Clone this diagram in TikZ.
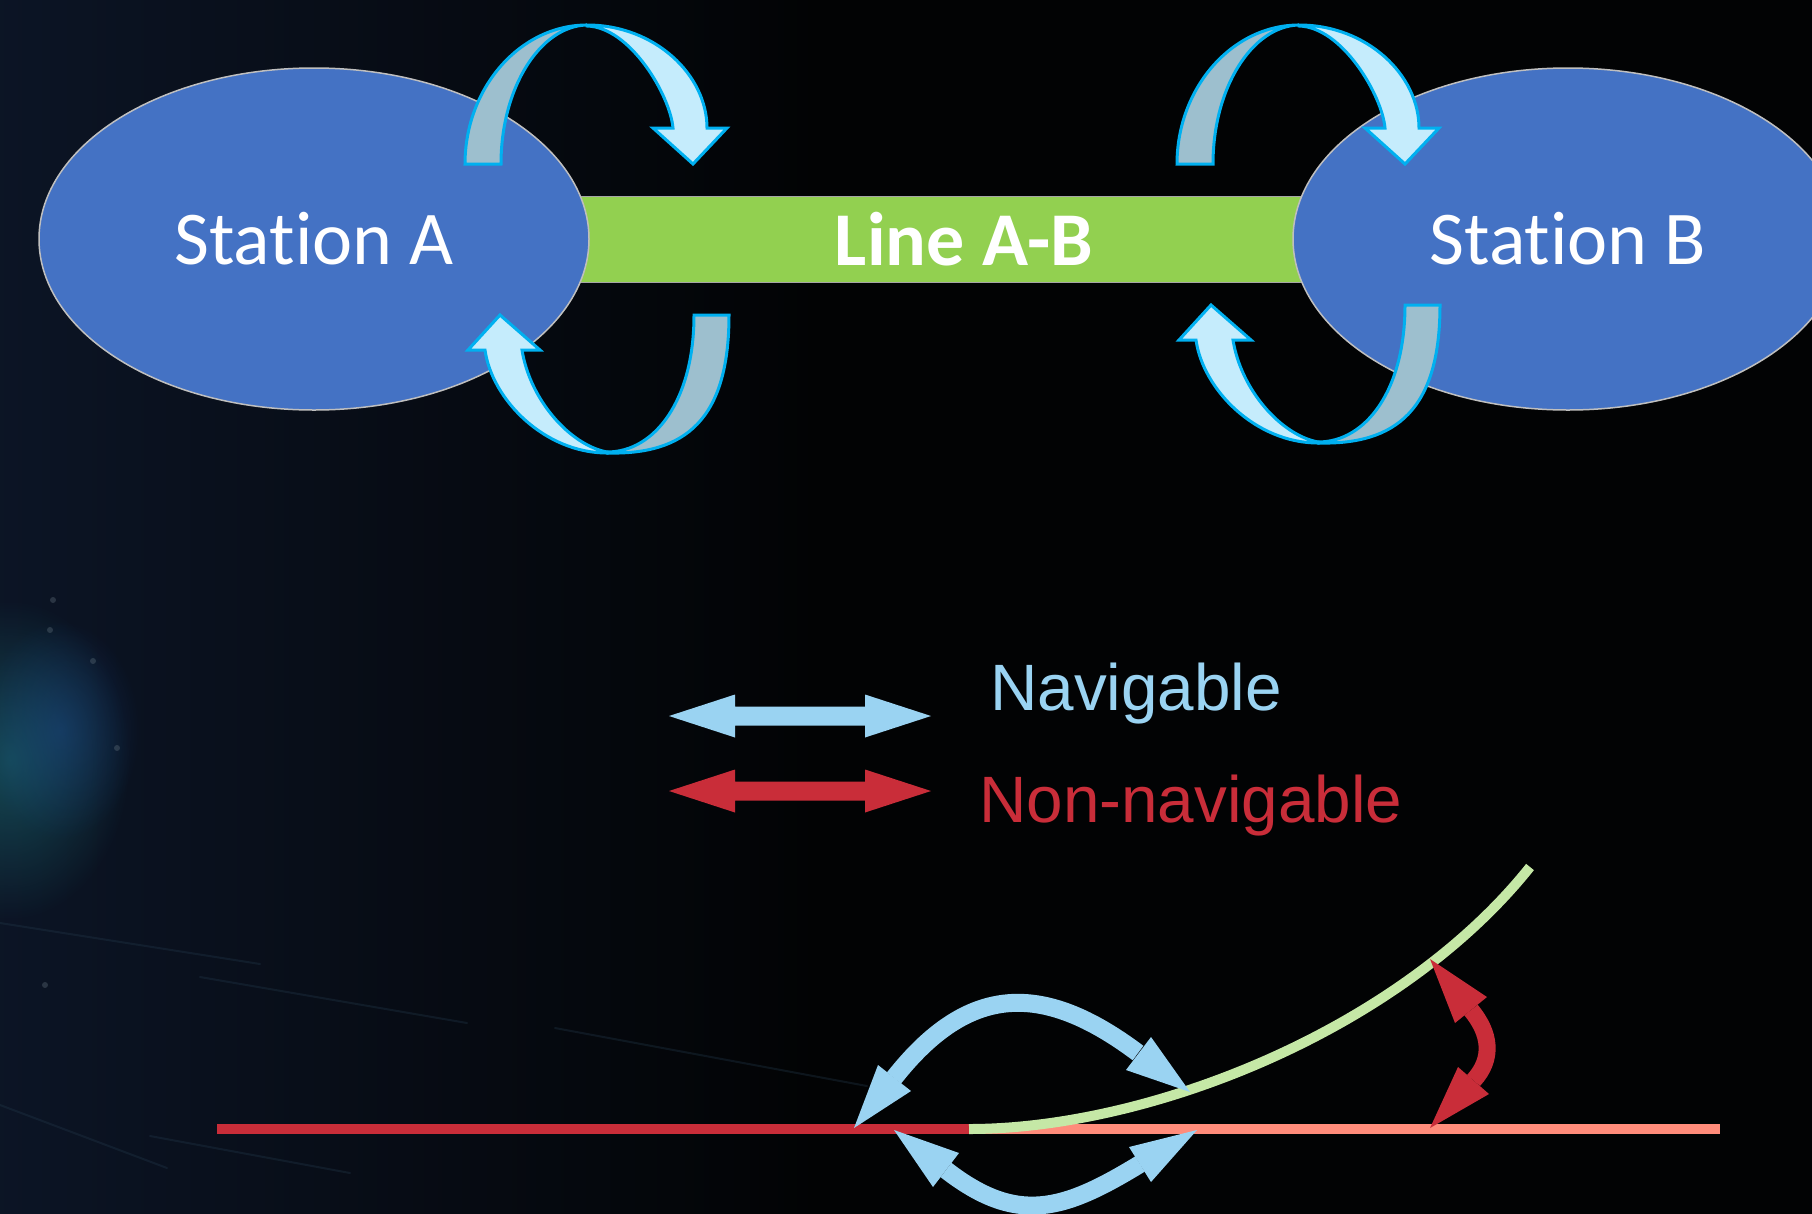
\documentclass[tikz,border=0pt]{standalone}
\usepackage{fontspec}
\setmainfont{Carlito}[Ligatures=NoCommon]
\newfontfamily\legendfont{Liberation Sans}
\usetikzlibrary{shapes.geometric,fadings}

\definecolor{bgblack}{HTML}{020304}
\definecolor{bgnavy}{HTML}{0C1526}
\definecolor{glowteal}{HTML}{1E7F86}
\definecolor{glowblue}{HTML}{1F4E9A}
\definecolor{streak}{HTML}{22384A}
\definecolor{stationblue}{HTML}{4472C4}
\definecolor{stationedge}{HTML}{BFBFBF}
\definecolor{linegreen}{HTML}{92D050}
\definecolor{loopedge}{HTML}{00B0F0}
\definecolor{loopback}{HTML}{9DBFCE}
\definecolor{loopfront}{HTML}{C5ECFC}
\definecolor{navblue}{HTML}{9AD3F2}
\definecolor{nonred}{HTML}{C92D39}
\definecolor{trackgreen}{HTML}{C5E8A6}
\definecolor{tracksalmon}{HTML}{FF8C7B}

\tikzfading[name=softglow, inner color=transparent!0, outer color=transparent!100]

\tikzset{
  station/.style={ellipse, minimum width=550pt, minimum height=342pt, inner sep=0pt,
    fill=stationblue, draw=stationedge, line width=1.5pt, text=white,
    font=\fontsize{76}{80}\selectfont},
  linebar/.style={rectangle, minimum width=778pt, minimum height=86pt, inner sep=0pt,
    fill=linegreen, draw=gray!70, line width=1pt, text=white,
    font=\bfseries\fontsize{76}{80}\selectfont},
  loopband/.style={draw=loopedge, line width=3pt, line join=miter},
  legendtext/.style={anchor=base west, inner sep=0pt, font=\legendfont\fontsize{65.6}{70}\selectfont},
  track/.style={line width=10pt},
  navshaft/.style={draw=navblue, line width=18pt},
  nonshaft/.style={draw=nonred, line width=17pt},
  faintline/.style={draw=streak, line width=2pt, opacity=0.35, line cap=round},
}

% one loop arrow above a station (back band, then front band with head)
\newcommand\upperloop{%
  \path[loopband, fill=loopback] (465,164) .. controls (465,88) and (520,25) .. (587,25)
     .. controls (540,26) and (501,88) .. (501,164) -- cycle;
  \path[loopband, fill=loopfront] (587,25) .. controls (655,25) and (707,75) .. (707,128)
     -- (727,128) -- (693,164) -- (653,128) -- (673,128)
     .. controls (670,95) and (630,27) .. (587,26) -- cycle;
}
% one loop arrow below a station
\newcommand\lowerloop{%
  \path[loopband, fill=loopback] (694,315) -- (729,315) .. controls (729,420) and (685,455) .. (607,453)
     -- (607,452) .. controls (655,452) and (694,400) .. (694,315) -- cycle;
  \path[loopband, fill=loopfront] (607,453) .. controls (545,453) and (492,400) .. (485,350)
     -- (468,350) -- (500,315) -- (540,350) -- (522,350)
     .. controls (530,400) and (570,445) .. (607,452) -- cycle;
}

\begin{document}
\begin{tikzpicture}[x=1pt,y=-1pt]
\useasboundingbox (0,0) rectangle (1812,1213);
% backdrop, a little larger than the page
\fill[bgblack] (-20,-20) rectangle (1832,1233);
\shade[left color=bgnavy, right color=bgblack] (-20,-20) rectangle (820,1233);
\clip (0,0) rectangle (1812,1213);

\fill[glowteal, path fading=softglow, opacity=0.5] (10,760) ellipse [x radius=120, y radius=160];
\fill[glowblue, path fading=softglow, opacity=0.4] (60,730) ellipse [x radius=80, y radius=110];
\draw[faintline] (0,923) -- (260,964);
\draw[faintline] (200,977) -- (467,1023);
\draw[faintline] (555,1028) -- (867,1086);
\draw[faintline] (0,1105) -- (167,1168);
\draw[faintline] (150,1136) -- (350,1173);
\foreach \px/\py in {53/600, 50/630, 93/661, 117/748, 45/985}{
  \fill[streak!70!white, opacity=0.35] (\px,\py) circle (3);
}

% stations and the line between them
\node[linebar] (lineAB) at (964,239) {Line A-B};
\node[station] (stationA) at (314,239) {Station A};
\node[station] (stationB) at (1568,239) {Station B};

% loop arrows around the stations
\upperloop
\begin{scope}[shift={(712,0)}]\upperloop\end{scope}
\lowerloop
\begin{scope}[shift={(711,-10)}]\lowerloop\end{scope}

% legend
\fill[navblue] (669,716) -- (735,694.5) -- (735,706.5) -- (865,706.5) -- (865,694.5) -- (931,716)
  -- (865,737.5) -- (865,725.5) -- (735,725.5) -- (735,737.5) -- cycle;
\fill[nonred] (669,791) -- (735,769.5) -- (735,781.5) -- (865,781.5) -- (865,769.5) -- (931,791)
  -- (865,812.5) -- (865,800.5) -- (735,800.5) -- (735,812.5) -- cycle;
\node[legendtext, text=navblue] (navlabel) at (990,710) {Navigable};
\node[legendtext, text=nonred] (nonlabel) at (979,822) {Non-navigable};

% tracks
\coordinate (trackL) at (217,1129);
\coordinate (switch) at (969,1129);
\coordinate (trackR) at (1720,1129);
\coordinate (branchEnd) at (1530,867);
\draw[track, nonred] (trackL) -- (switch);
\draw[track, tracksalmon] (switch) -- (trackR);
\draw[track, trackgreen] (switch) .. controls (1150,1129) and (1400,1030) .. (branchEnd);

% navigable moves across the switch
\draw[navshaft] (894,1078) .. controls (968,984) and (1042,981) .. (1138,1053);
\fill[navblue] (854,1128) -- (878,1065) -- (911,1091) -- cycle;
\fill[navblue] (1190,1092) -- (1151,1037) -- (1126,1070) -- cycle;
\draw[navshaft] (946,1170) .. controls (1017,1225) and (1063,1211) .. (1140,1164);
\fill[navblue] (894,1130) -- (959,1153) -- (933,1187) -- cycle;
\fill[navblue] (1197,1130) -- (1129,1147) -- (1151,1182) -- cycle;

% non-navigable move between the branch and the straight track
\draw[nonshaft] (1471,1010) .. controls (1490,1033) and (1494,1058) .. (1473.5,1080.5);
\fill[nonred] (1430,959) -- (1455,1023) -- (1487,997) -- cycle;
\fill[nonred] (1430,1128) -- (1458,1067) -- (1489,1094) -- cycle;
\end{tikzpicture}
\end{document}
